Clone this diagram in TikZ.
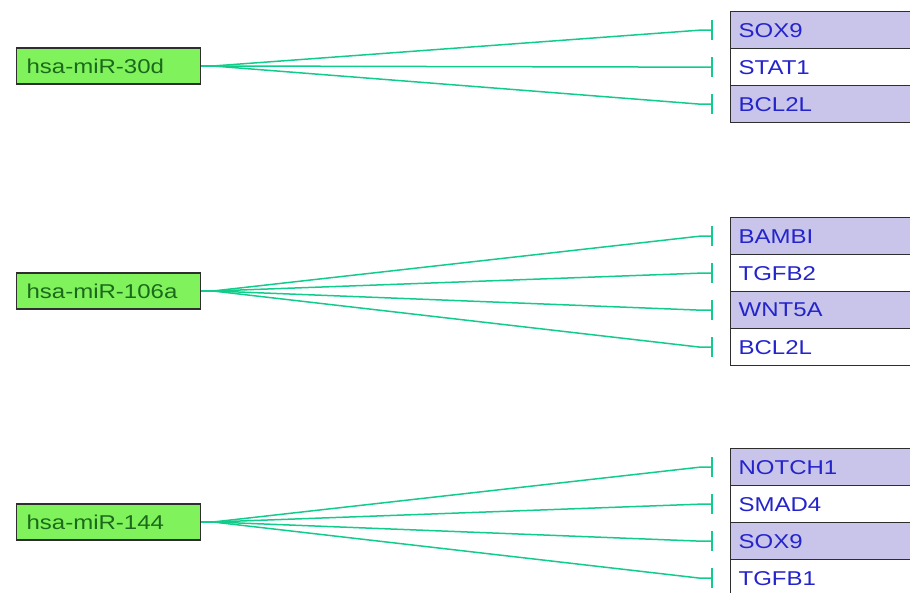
\documentclass[tikz,border=0pt]{standalone}
\usepackage{fontspec}
\newfontfamily\labfont[FakeStretch=1.2]{Liberation Sans}
\definecolor{mirfill}{HTML}{80F25C}
\definecolor{mirtext}{HTML}{1B6A1B}
\definecolor{purp}{HTML}{C9C4E9}
\definecolor{genetext}{HTML}{2424CC}
\definecolor{conncol}{HTML}{12CC8C}
\definecolor{edge}{HTML}{2E2E2E}
\tikzset{
  mir/.style={draw=edge, line width=1.3pt, fill=mirfill, text=mirtext, font=\labfont\fontsize{20}{22}\selectfont,
    minimum width=184pt, minimum height=36pt, inner xsep=10pt, text width=164pt, align=left, anchor=west},
  gene/.style={draw=edge, line width=1.3pt, text=genetext, font=\labfont\fontsize{20}{22}\selectfont,
    minimum height=37pt, inner xsep=8pt, text width=180pt, align=left, anchor=north west},
  shaded/.style={gene, fill=purp},
  plain/.style={gene, fill=white},
  conn/.style={draw=conncol, line width=1.5pt},
}
\newcommand{\inhib}[2]{%
  \draw[conn] (#1) -- ([xshift=-30pt]#2.west) -- ([xshift=-18pt]#2.west);
  \draw[conn] ([xshift=-18pt,yshift=10pt]#2.west) -- ([xshift=-18pt,yshift=-10pt]#2.west);}
\begin{document}
\begin{tikzpicture}[x=1pt,y=-1pt]
\useasboundingbox (0,0) rectangle (910,593);
\clip (0,0) rectangle (910,593);
% miRNA nodes
\node[mir] (m1) at (16,66) {hsa-miR-30d};
\node[mir] (m2) at (16,291) {hsa-miR-106a};
\node[mir] (m3) at (16,522) {hsa-miR-144};
% targets group 1
\node[shaded] (a1) at (730,11) {SOX9};
\node[plain]  (a2) at (730,48) {STAT1};
\node[shaded] (a3) at (730,85) {BCL2L};
% group 2
\node[shaded] (b1) at (730,217) {BAMBI};
\node[plain]  (b2) at (730,254) {TGFB2};
\node[shaded] (b3) at (730,291) {WNT5A};
\node[plain]  (b4) at (730,328) {BCL2L};
% group 3
\node[shaded] (c1) at (730,448) {NOTCH1};
\node[plain]  (c2) at (730,485) {SMAD4};
\node[shaded] (c3) at (730,522) {SOX9};
\node[plain]  (c4) at (730,559) {TGFB1};
% hubs
\coordinate (h1) at (213,66);
\coordinate (h2) at (213,291);
\coordinate (h3) at (213,522);
\draw[conn] (m1.east) -- (h1);
\draw[conn] (m2.east) -- (h2);
\draw[conn] (m3.east) -- (h3);
\inhib{h1}{a1}\inhib{h1}{a2}\inhib{h1}{a3}
\inhib{h2}{b1}\inhib{h2}{b2}\inhib{h2}{b3}\inhib{h2}{b4}
\inhib{h3}{c1}\inhib{h3}{c2}\inhib{h3}{c3}\inhib{h3}{c4}
\end{tikzpicture}
\end{document}
